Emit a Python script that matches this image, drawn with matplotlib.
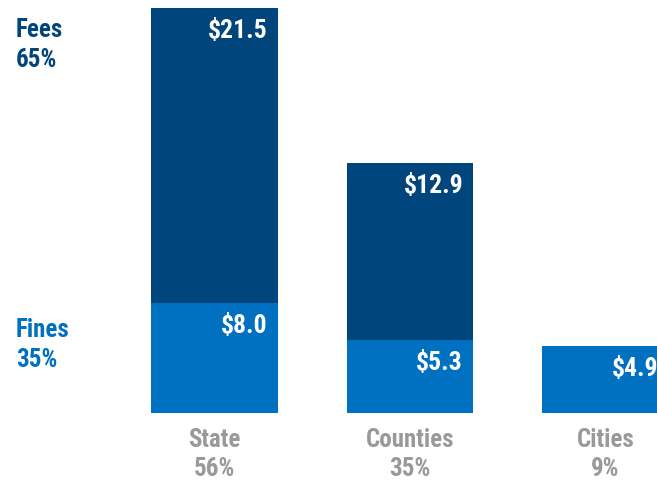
import matplotlib
matplotlib.use("Agg")
import matplotlib.pyplot as plt
import matplotlib.transforms as mtransforms
from matplotlib import font_manager

# Dados (bilhões de US$)
categorias = ["State", "Counties", "Cities"]
participacao = ["56%", "35%", "9%"]
multas = [8.0, 5.3, 4.9]
taxas = [21.5, 12.9, 0.0]

COR_TAXAS = "#00457C"
COR_MULTAS = "#0070C0"
COR_CINZA = "#999999"

# procura uma fonte condensada, se houver
nomes = {f.name for f in font_manager.fontManager.ttflist}
familias = [n for n in ["Roboto Condensed", "Liberation Sans Narrow", "Open Sans Condensed",
                        "Noto Sans Condensed", "Roboto", "DejaVu Sans"] if n in nomes]
plt.rcParams["font.family"] = familias
plt.rcParams["font.weight"] = "bold"
plt.rcParams["font.stretch"] = "condensed"

fig = plt.figure(figsize=(6.57, 4.82), dpi=100)
ax = fig.add_axes([0, 1 - 413 / 482, 1, 413 / 482])

largura = 0.645
x = list(range(len(categorias)))
ax.bar(x, multas, width=largura, color=COR_MULTAS)
ax.bar(x, taxas, width=largura, bottom=multas, color=COR_TAXAS)

ax.set_xlim(-214.5 / 195.5, (657 - 214.5) / 195.5)
ax.set_ylim(0, 413 / 13.73)
ax.axis("off")

# rótulos de valor dentro das barras
for i in x:
    ax.annotate(f"${multas[i]:.1f}", (i + largura / 2, multas[i]),
                xytext=(-10, -11), textcoords="offset pixels",
                ha="right", va="top", color="white", fontsize=18.5,
                annotation_clip=False)
    if taxas[i] > 0:
        ax.annotate(f"${taxas[i]:.1f}", (i + largura / 2, multas[i] + taxas[i]),
                    xytext=(-10, -11), textcoords="offset pixels",
                    ha="right", va="top", color="white", fontsize=18.5,
                    annotation_clip=False)

# rótulos das categorias
trans = mtransforms.blended_transform_factory(ax.transData, fig.transFigure)
for i in x:
    ax.text(i, 1 - 440 / 482, categorias[i], transform=trans, ha="center",
            va="center", color=COR_CINZA, fontsize=18)
    ax.text(i, 1 - 469 / 482, participacao[i], transform=trans, ha="center",
            va="center", color=COR_CINZA, fontsize=18)

# legenda à esquerda
fig.text(16 / 657, 1 - 30 / 482, "Fees", color=COR_TAXAS, fontsize=18, va="center")
fig.text(16 / 657, 1 - 60 / 482, "65%", color=COR_TAXAS, fontsize=18, va="center")
fig.text(16 / 657, 1 - 330 / 482, "Fines", color=COR_MULTAS, fontsize=18, va="center")
fig.text(16 / 657, 1 - 360 / 482, "35%", color=COR_MULTAS, fontsize=18, va="center")

fig.savefig("out.png", dpi=100)
